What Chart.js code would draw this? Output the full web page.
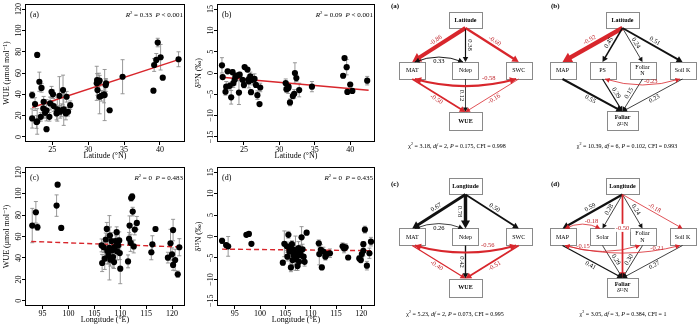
<!DOCTYPE html>
<html>
<head>
<meta charset="utf-8">
<title>WUE and foliar δ15N along latitude and longitude</title>
<script src="https://cdn.jsdelivr.net/npm/chart.js@4.4.0/dist/chart.umd.min.js"></script>
<style>
  body { margin: 0; background: #fff; }
  #fig { position: relative; width: 700px; height: 327px; overflow: hidden; background: #fff; }
  #fig canvas { position: absolute; }
</style>
</head>
<body>
<div id="fig">
  <canvas id="wueLat" width="190" height="163" style="left:0;top:0"></canvas>
  <canvas id="d15Lat" width="190" height="163" style="left:192px;top:0"></canvas>
  <canvas id="wueLon" width="190" height="164" style="left:0;top:163px"></canvas>
  <canvas id="d15Lon" width="190" height="164" style="left:192px;top:163px"></canvas>
  <canvas id="semA" width="155" height="163" style="left:380px;top:0"></canvas>
  <canvas id="semB" width="165" height="163" style="left:535px;top:0"></canvas>
  <canvas id="semC" width="155" height="164" style="left:380px;top:163px"></canvas>
  <canvas id="semD" width="165" height="164" style="left:535px;top:163px"></canvas>
</div>
<script>
// ---- site data: WUE vs latitude (a) ----
const latA = [22.2, 22.2, 22.6, 22.8, 22.9, 22.9, 23.2, 23.5, 23.4, 23.75, 23.8, 24.0, 24.2, 24.2, 24.6, 24.7, 24.9,
  25.1, 25.2, 25.6, 25.7, 26.0, 26.1, 26.3, 26.5, 26.6, 26.9, 27.0, 27.2, 27.5,
  31.2, 31.25, 31.5, 31.6, 31.3, 31.6, 31.85, 32.2, 32.3, 32.45, 32.5, 33.0, 34.8,
  39.1, 39.2, 39.5, 39.7, 40.1, 40.4, 42.6];
const wueA = [17.3, 39.3, 30.8, 14, 14.5, 77, 51.8, 46, 18.8, 26.7, 33, 22.6, 25, 7.2, 18.8, 31.4, 42.4,
  40, 29, 22, 25.8, 38.6, 23.6, 25, 44, 25.8, 22, 37.7, 23.6, 29.8,
  50.3, 53.4, 51.8, 52.8, 44, 37.7, 38.6, 40, 39.3, 48.7, 50.3, 25, 56.5,
  43.4, 67.5, 72.3, 88.6, 74.8, 55.6, 72.9];
const wueAErr = [9, 3, 6, 6, 12, 0, 9, 4, 4, 8, 5, 5, 10, 0, 4, 6, 5,
  4, 5, 6, 11, 18, 6, 6, 14, 15, 6, 5, 4, 4,
  16, 6, 8, 5, 5, 16, 5, 8, 24, 6, 4, 0, 16,
  0, 6, 6, 4, 12, 0, 7];
const fitLatA = [22.2, 42.6];
const fitWueA = [27.6, 72.5];

// ---- foliar δ15N vs latitude (b) ----
const latB = [21.9, 22.0, 22.4, 22.5, 22.7, 23.0, 23.2, 23.4, 23.5, 23.7, 23.8, 24.1, 24.3, 24.4, 24.8,
  25.0, 25.1, 25.5, 25.6, 25.7, 25.9, 26.0, 26.2, 26.5, 26.7, 26.9, 27.2, 27.3,
  30.9, 31.0, 31.25, 31.3, 31.5, 31.9, 32.1, 32.2, 32.4, 32.8, 34.6,
  39.2, 39.5, 39.0, 40.0, 40.3, 39.6, 42.4];
const d15B = [1.8, -0.95, -4.4, -3.2, 0.4, -3.0, -5.7, 0.2, -2.4, -1.6, -0.8, -0.6, -4.6, -0.4, -1.6,
  -2.8, 1.4, 0.8, -1.6, -2.0, -0.8, -4.5, -1.6, -1.4, -2.8, -5.2, -7.3, -3.4,
  -2.4, -3.8, -3.6, -3.2, -6.9, -5.4, -4.9, 0, -1.2, -4.0, -3.2,
  3.5, 1.36, -0.64, -2.7, -4.2, -4.45, -1.8];
const d15BErr = [1.8, 0.5, 0.8, 1.2, 0.5, 0.8, 1.6, 0.6, 1.0, 1.2, 0.8, 0.6, 2.8, 0.6, 0.5,
  0.7, 0.3, 0.5, 0.8, 1.5, 1.0, 0.5, 1.2, 1.2, 0.6, 1.0, 0.3, 1.0,
  1.0, 0.8, 1.2, 0.6, 0.8, 0.7, 1.0, 2.4, 0.8, 1.6, 1.2,
  0.4, 1.8, 0.5, 0.5, 0.3, 0.3, 1.0];
const fitLatB = [21.9, 42.6];
const fitD15B = [-1.0, -4.05];

// ---- WUE vs longitude (c) ----
const lonC = [93.0, 93.7, 94.0, 97.7, 97.9, 98.6,
  106.4, 106.5, 106.8, 107.0, 107.2, 107.4, 107.5, 107.7, 107.9, 108.0, 108.1, 108.3, 108.4, 108.6, 108.8,
  108.9, 109.1, 109.3, 109.4, 109.6, 109.8, 110.0, 109.9,
  111.7, 111.5, 111.8, 112.0, 112.1, 112.3, 112.4, 112.6, 112.8, 113.2,
  116.0, 116.2, 116.8, 119.2, 119.7, 120.0, 120.2, 120.2, 120.6, 121.1, 121.4];
const wueC = [70.2, 82.6, 68.7, 88.8, 108.3, 68,
  51.7, 35.3, 50, 39.3, 57.2, 67.1, 46.4, 42.4, 49.5, 60.9, 38.4, 55.7, 47, 40.8, 36.2,
  50.1, 55.7, 64, 46.1, 51.7, 56.3, 30, 44.5,
  57.8, 36.8, 70.2, 54.1, 95.9, 97.1, 83.2, 50.7, 66.5, 72.7,
  45.3, 52.7, 67, 40.3, 53.7, 43.4, 66, 33.5, 38.1, 24.8, 50];
const wueCErr = [16, 10, 3, 10, 0, 0,
  6, 8, 5, 10, 6, 6, 12, 8, 30, 8, 6, 8, 10, 10, 6,
  8, 5, 5, 8, 6, 8, 14, 6,
  6, 6, 9, 8, 3, 3, 4, 6, 5, 6,
  7, 8, 2, 5, 13, 6, 10, 5, 10, 3, 8];
const fitLonC = [92.8, 121.6];
const fitWueC = [55.4, 50.2];

// ---- foliar δ15N vs longitude (d) ----
const lonD = [92.5, 93.3, 93.7, 97.3, 97.8, 98.3,
  104.5, 104.8, 105.3, 105.4, 105.6, 105.8, 105.9, 106.1, 106.3, 106.4, 106.6, 106.7, 106.9, 107.0,
  107.2, 107.4, 107.6, 107.7, 107.9, 108.0, 108.2, 108.4, 108.6, 108.8, 109.2,
  111.6, 111.7, 112.0, 112.2, 112.5, 112.9, 113.2, 113.8,
  116.3, 116.6, 116.9, 117.4, 119.6, 119.9, 120.1, 120.4, 120.4, 120.7, 121.1, 121.6, 121.9];
const d15D = [-1.0, -2.0, -2.3, 0.4, 0.6, -1.7,
  -6.1, -1.7, -2.3, -4.7, 0.4, -3.5, -2.7, -7.2, -1.8, -5.5, -4.3, -3.1, -5.3, -3.9,
  -4.8, -6.9, -2.7, -5.9, -3.5, -4.3, -0.2, -3.0, -4.7, -5.9, 0.9,
  -1.6, -4.1, -3.1, -7.2, -3.5, -4.7, -4.1, -3.9,
  -2.3, -2.8, -2.5, -4.9, -5.1, -5.5, -4.1, -3.35, -1.8, 1.6, -6.8, -3.9, -1.2];
const d15DErr = [0.6, 0.5, 2.3, 0, 0.2, 0,
  0.5, 3.0, 1.0, 1.0, 0.8, 1.2, 1.0, 1.0, 0.8, 1.2, 1.5, 1.0, 1.2, 4.0,
  1.0, 1.0, 1.5, 1.0, 1.5, 1.0, 2.5, 1.2, 1.5, 1.0, 0.5,
  0.8, 2.5, 1.2, 0.5, 1.0, 0.8, 0.6, 1.0,
  0.8, 1.0, 0.8, 0.4, 0.6, 0.6, 0.8, 1.2, 0.6, 0.8, 1.0, 1.2, 1.0];
const fitLonD = [92.5, 121.9];
const fitD15D = [-2.95, -3.3];

// regression statistics per panel
const r2Values = [0.33, 0.09, 0, 0];
const pTexts = ['< 0.001', '< 0.001', '= 0.483', '= 0.435'];

// axis ticks
const latTicks = [25, 30, 35, 40];
const lonTicks = [95, 100, 105, 110, 115, 120];
const wueTicks = [0, 20, 40, 60, 80, 100, 120];
const d15Ticks = [-15, -10, -5, 0, 5, 10, 15];

// ---- structural equation models ----
const FOL = 'Foliar\nδ¹⁵N';
const midA = ['MAT', 'Ndep', 'SWC'];
const pathsA = [['Latitude', 'MAT', -0.86], ['Latitude', 'Ndep', 0.38], ['Latitude', 'SWC', -0.60],
  ['MAT', 'WUE', -0.50], ['Ndep', 'WUE', 0.12], ['SWC', 'WUE', -0.16]];
const covsA = [['MAT', 'Ndep', 0.33], ['MAT', 'SWC', -0.58]];

const midB = ['MAP', 'PS', 'Foliar\nN', 'Soil K'];
const pathsB = [['Latitude', 'MAP', -0.92], ['Latitude', 'PS', 0.45], ['Latitude', 'Foliar\nN', 0.24],
  ['Latitude', 'Soil K', 0.51], ['MAP', FOL, 0.55], ['PS', FOL, 0.39], ['Foliar\nN', FOL, 0.15], ['Soil K', FOL, 0.23]];
const covsB = [['PS', 'Soil K', -0.23]];

const midC = ['MAT', 'Ndep', 'SWC'];
const pathsC = [['Longitude', 'MAT', 0.67], ['Longitude', 'Ndep', 0.78], ['Longitude', 'SWC', 0.50],
  ['MAT', 'WUE', -0.40], ['Ndep', 'WUE', 0.42], ['SWC', 'WUE', -0.51]];
const covsC = [['MAT', 'Ndep', 0.26], ['MAT', 'SWC', -0.56]];

const midD = ['MAP', 'Solar', 'Foliar\nN', 'Soil K'];
const pathsD = [['Longitude', 'MAP', 0.59], ['Longitude', 'Solar', 0.28], ['Longitude', 'Foliar\nN', 0.24],
  ['Longitude', 'Soil K', -0.18], ['Longitude', FOL, -0.50], ['MAP', FOL, 0.41], ['Solar', FOL, 0.29],
  ['Foliar\nN', FOL, 0.30], ['Soil K', FOL, 0.27]];
const covsD = [['MAP', 'Solar', -0.18], ['MAP', 'Foliar\nN', -0.15], ['MAP', 'Soil K', -0.21]];

// model fit: chi-square, df, P, CFI
const chiSq = ['3.18', '10.39', '5.23', '3.05'];
const dfs = [2, 6, 2, 3];
const pModel = ['0.175', '0.102', '0.073', '0.384'];
const cfis = ['0.998', '0.993', '0.995', '1'];

const SERIF = '"Liberation Serif", "DejaVu Serif", serif';
const RED = '#d8262c';
const RED_TXT = '#c0272d';

// text made of pieces: [text, style] where style has 'i' italic, 's' superscript, 'b' bold
function drawRich(ctx, parts, x, y, align, size) {
  const fontOf = st => (st.includes('i') ? 'italic ' : '') + (st.includes('b') ? 'bold ' : '') +
    (st.includes('s') ? size * 0.68 : size) + 'px ' + SERIF;
  const widths = parts.map(([t, st = '']) => { ctx.font = fontOf(st); return ctx.measureText(t).width; });
  const total = widths.reduce((a, b) => a + b, 0);
  let cx = align === 'right' ? x - total : align === 'center' ? x - total / 2 : x;
  ctx.textAlign = 'left';
  ctx.textBaseline = 'middle';
  parts.forEach(([t, st = ''], i) => {
    ctx.font = fontOf(st);
    ctx.fillText(t, cx, st.includes('s') ? y - size * 0.32 : y);
    cx += widths[i];
  });
}

function panelPlugin(p) {
  return {
    id: 'panelDecor',
    beforeDatasetsDraw(chart) {
      const { ctx, scales: { x, y } } = chart;
      ctx.save();
      ctx.strokeStyle = '#8d8d8d';
      ctx.lineWidth = 0.9;
      p.x.forEach((xv, i) => {
        const e = p.err[i];
        if (!e) return;
        const px = x.getPixelForValue(xv);
        const y1 = y.getPixelForValue(p.y[i] - e);
        const y2 = y.getPixelForValue(p.y[i] + e);
        ctx.beginPath();
        ctx.moveTo(px, y1); ctx.lineTo(px, y2);
        ctx.moveTo(px - 2, y1); ctx.lineTo(px + 2, y1);
        ctx.moveTo(px - 2, y2); ctx.lineTo(px + 2, y2);
        ctx.stroke();
      });
      ctx.restore();
    },
    afterDraw(chart) {
      const { ctx, chartArea: a, scales: { y } } = chart;
      ctx.save();
      ctx.strokeStyle = '#000';
      ctx.lineWidth = 1;
      ctx.strokeRect(Math.round(a.left) + 0.5, Math.round(a.top) + 0.5,
        Math.round(a.right - a.left) - 1, Math.round(a.bottom - a.top) - 1);
      ctx.fillStyle = '#000';
      ctx.font = '8px ' + SERIF;
      ctx.textAlign = 'center';
      ctx.textBaseline = 'middle';
      p.yTicks.forEach(v => {
        ctx.save();
        ctx.translate(a.left - 6.5, y.getPixelForValue(v));
        ctx.rotate(-Math.PI / 2);
        ctx.fillText(v < 0 ? '\u2212' + (-v) : String(v), 0, 0);
        ctx.restore();
      });
      ctx.textAlign = 'left';
      ctx.fillText(p.tag, a.left + 5, a.top + 11);
      drawRich(ctx, [['R', 'i'], ['2', 's'], [' = ' + p.r2 + '  '], ['P', 'i'], [' ' + p.pText]],
        a.right - 2, a.top + 11, 'right', 7);
      ctx.restore();
    }
  };
}

function scatterPanel(id, p) {
  const points = p.x.map((x, i) => ({ x, y: p.y[i] }));
  const fitLine = p.fitX.map((x, i) => ({ x, y: p.fitY[i] }));
  const font = { family: SERIF, size: 8 };
  return new Chart(document.getElementById(id), {
    type: 'scatter',
    data: {
      datasets: [
        { data: points, pointRadius: 3.1, pointBackgroundColor: '#000', pointBorderWidth: 0, order: 0 },
        { data: fitLine, showLine: true, borderColor: RED, borderWidth: 1.4,
          borderDash: p.dashed ? [5, 3] : [], pointRadius: 0, order: 1 }
      ]
    },
    options: {
      responsive: false,
      animation: false,
      devicePixelRatio: 1,
      layout: { padding: p.pad },
      plugins: { legend: { display: false }, tooltip: { enabled: false } },
      scales: {
        x: {
          type: 'linear', min: p.xRange[0], max: p.xRange[1],
          afterBuildTicks: s => { s.ticks = p.xTicks.map(v => ({ value: v })); },
          afterFit: s => { s.height = 21; },
          ticks: { font, color: '#000', padding: 0, autoSkip: false, maxRotation: 0 },
          grid: { drawOnChartArea: false, tickLength: 3, color: '#000' },
          border: { display: false },
          title: { display: true, text: p.xTitle, font, color: '#000', padding: { top: 0, bottom: 2 } }
        },
        y: {
          type: 'linear', min: p.yRange[0], max: p.yRange[1],
          afterBuildTicks: s => { s.ticks = p.yTicks.map(v => ({ value: v })); },
          afterFit: s => { s.width = 25; },
          ticks: { display: false },
          grid: { drawOnChartArea: false, tickLength: 3, color: '#000' },
          border: { display: false },
          title: { display: true, text: p.yTitle, font, color: '#000', padding: { top: 2, bottom: 0 } }
        }
      }
    },
    plugins: [panelPlugin(p)]
  });
}

// arrow line width from the standardised coefficient
const pathWidth = c => Math.max(0.8, 5 * Math.pow(Math.abs(c), 1.5));

function arrowHead(ctx, x, y, ang, w, color) {
  const L = 3.5 + 1.3 * w, H = 1.8 + 0.8 * w;
  const c = Math.cos(ang), s = Math.sin(ang);
  ctx.fillStyle = color;
  ctx.beginPath();
  ctx.moveTo(x, y);
  ctx.lineTo(x - L * c + H * s, y - L * s - H * c);
  ctx.lineTo(x - L * c - H * s, y - L * s + H * c);
  ctx.closePath();
  ctx.fill();
  return L;
}

function coefText(c) { return c.toFixed(2); }

function semPlugin(s) {
  return {
    id: 'semDraw',
    afterDatasetsDraw(chart) {
      const { ctx, scales: { x, y } } = chart;
      const geo = {};
      Object.entries(s.nodes).forEach(([name, n]) => {
        geo[name] = { ...n, cx: x.getPixelForValue(n.col), cy: y.getPixelForValue(n.row) };
      });
      const centerX = x.getPixelForValue((s.mid.length - 1) / 2);
      ctx.save();

      // node boxes
      Object.entries(geo).forEach(([name, g]) => {
        const l = Math.round(g.cx - g.w / 2) + 0.5, t = Math.round(g.cy - g.h / 2) + 0.5;
        ctx.fillStyle = '#fff';
        ctx.fillRect(l, t, g.w, g.h);
        ctx.strokeStyle = '#8a8a8a';
        ctx.lineWidth = 1;
        ctx.strokeRect(l, t, g.w, g.h);
        const lines = name.split('\n');
        ctx.fillStyle = '#000';
        ctx.textAlign = 'center';
        ctx.textBaseline = 'middle';
        lines.forEach((ln, i) => {
          ctx.font = (g.bold && i === 0 ? 'bold ' : '') + '6px ' + SERIF;
          ctx.fillText(ln, g.cx, g.cy + (i - (lines.length - 1) / 2) * 6.6);
        });
      });

      // directed paths
      s.paths.forEach(([from, to, c]) => {
        const a = geo[from], b = geo[to];
        const x1 = a.cx, y1 = a.cy + a.h / 2, x2 = b.cx, y2 = b.cy - b.h / 2;
        const w = pathWidth(c), col = c < 0 ? RED : '#111';
        const ang = Math.atan2(y2 - y1, x2 - x1);
        const L = 3.5 + 1.3 * w;
        ctx.strokeStyle = col;
        ctx.lineWidth = w;
        ctx.beginPath();
        ctx.moveTo(x1, y1);
        ctx.lineTo(x2 - (L - 1) * Math.cos(ang), y2 - (L - 1) * Math.sin(ang));
        ctx.stroke();
        arrowHead(ctx, x2, y2, ang, w, col);

        ctx.fillStyle = c < 0 ? RED_TXT : '#000';
        ctx.font = '6.5px ' + SERIF;
        ctx.textAlign = 'center';
        ctx.textBaseline = 'middle';
        if (b.row - a.row === 2) {
          const ly = y1 + (y2 - y1) * 0.4;
          const tw = ctx.measureText(coefText(c)).width;
          ctx.fillStyle = '#fff';
          ctx.fillRect(x1 - tw / 2 - 1, ly - 4, tw + 2, 8);
          ctx.fillStyle = c < 0 ? RED_TXT : '#000';
          ctx.fillText(coefText(c), x1, ly);
          return;
        }
        const mx = (x1 + x2) / 2, my = (y1 + y2) / 2;
        const len = Math.hypot(x2 - x1, y2 - y1);
        let nx = -(y2 - y1) / len, ny = (x2 - x1) / len;
        const key = from + '>' + to;
        const side = s.sides[key] !== undefined ? s.sides[key]
          : (Math.abs(mx - centerX) < 1.5 ? -1 : Math.sign(mx - centerX));
        if (nx * side < 0) { nx = -nx; ny = -ny; }
        const off = 3.6 + w / 2;
        let rot = ang;
        if (rot > Math.PI / 2) rot -= Math.PI;
        if (rot < -Math.PI / 2) rot += Math.PI;
        ctx.save();
        ctx.translate(mx + nx * off, my + ny * off);
        ctx.rotate(rot);
        ctx.fillText(coefText(c), 0, 0);
        ctx.restore();
      });

      // correlated residuals as curved double arrows
      s.covs.forEach(([p, q, c], i) => {
        const a = geo[p], b = geo[q];
        const above = Math.abs(b.col - a.col) === 1;
        const dir = Math.sign(b.cx - a.cx);
        const yA = above ? a.cy - a.h / 2 : a.cy + a.h / 2;
        const yB = above ? b.cy - b.h / 2 : b.cy + b.h / 2;
        const x1 = a.cx + 2.5 * dir, x2 = b.cx - 2.5 * dir;
        const dist = Math.abs(x2 - x1);
        const cxp = (x1 + x2) / 2, cyp = (yA + yB) / 2 + (above ? -1 : 1) * (6 + 0.08 * dist);
        const w = pathWidth(c), col = c < 0 ? RED : '#111';
        ctx.strokeStyle = col;
        ctx.lineWidth = w;
        ctx.beginPath();
        ctx.moveTo(x1, yA);
        ctx.quadraticCurveTo(cxp, cyp, x2, yB);
        ctx.stroke();
        arrowHead(ctx, x1, yA, Math.atan2(yA - cyp, x1 - cxp), w, col);
        arrowHead(ctx, x2, yB, Math.atan2(yB - cyp, x2 - cxp), w, col);
        const [t, dy] = s.covLabels[i];
        const bx = (1 - t) * (1 - t) * x1 + 2 * (1 - t) * t * cxp + t * t * x2;
        const by = (1 - t) * (1 - t) * yA + 2 * (1 - t) * t * cyp + t * t * yB;
        ctx.fillStyle = c < 0 ? RED_TXT : '#000';
        ctx.font = '6.5px ' + SERIF;
        ctx.textAlign = 'center';
        ctx.textBaseline = 'middle';
        ctx.fillText(coefText(c), bx, by + dy);
      });

      // panel tag and model fit
      ctx.fillStyle = '#000';
      ctx.font = 'bold 7px ' + SERIF;
      ctx.textAlign = 'left';
      ctx.textBaseline = 'middle';
      ctx.fillText(s.tag, s.tagPos[0], s.tagPos[1]);
      drawRich(ctx, [['χ'], ['2', 's'], [' = ' + s.chi + ', '], ['df', 'i'], [' = ' + s.df + ', '],
        ['P', 'i'], [' = ' + s.p + ', CFI = ' + s.cfi]], s.capPos[0], s.capPos[1], 'center', 6);
      ctx.restore();
    }
  };
}

function semDiagram(id, s) {
  const mid = (s.mid.length - 1) / 2;
  const two = s.bottom.includes('\n');
  s.nodes = {};
  s.nodes[s.top] = { col: mid, row: 0, w: 33, h: 16, bold: true };
  s.mid.forEach((n, i) => { s.nodes[n] = { col: i, row: 1, w: 26, h: 17, bold: false }; });
  s.nodes[s.bottom] = { col: mid, row: 2, w: two ? 31 : 33, h: two ? 19 : 18, bold: true };
  const pts = Object.values(s.nodes).map(n => ({ x: n.col, y: n.row }));
  return new Chart(document.getElementById(id), {
    type: 'scatter',
    data: { datasets: [{ data: pts, pointRadius: 0 }] },
    options: {
      responsive: false,
      animation: false,
      devicePixelRatio: 1,
      layout: { padding: 0 },
      plugins: { legend: { display: false }, tooltip: { enabled: false } },
      scales: {
        x: { type: 'linear', display: false, min: s.xRange[0], max: s.xRange[1] },
        y: { type: 'linear', display: false, reverse: true, min: s.yRange[0], max: s.yRange[1] }
      }
    },
    plugins: [semPlugin(s)]
  });
}

const wueTitle = 'WUE (μmol mol⁻¹)';
const d15Title = 'δ¹⁵N (‰)';

scatterPanel('wueLat', { x: latA, y: wueA, err: wueAErr, fitX: fitLatA, fitY: fitWueA, dashed: false,
  xRange: [21.2, 43.5], yRange: [-4.8, 124.8], xTicks: latTicks, yTicks: wueTicks,
  xTitle: 'Latitude (°N)', yTitle: wueTitle, tag: '(a)', r2: r2Values[0], pText: pTexts[0],
  pad: { left: 0, right: 5, top: 4, bottom: 0 } });
scatterPanel('d15Lat', { x: latB, y: d15B, err: d15BErr, fitX: fitLatB, fitY: fitD15B, dashed: false,
  xRange: [21.2, 43.5], yRange: [-16.2, 16.2], xTicks: latTicks, yTicks: d15Ticks,
  xTitle: 'Latitude (°N)', yTitle: d15Title, tag: '(b)', r2: r2Values[1], pText: pTexts[1],
  pad: { left: 0, right: 7, top: 4, bottom: 0 } });
scatterPanel('wueLon', { x: lonC, y: wueC, err: wueCErr, fitX: fitLonC, fitY: fitWueC, dashed: true,
  xRange: [91.6, 122.5], yRange: [-4.8, 124.8], xTicks: lonTicks, yTicks: wueTicks,
  xTitle: 'Longitude (°E)', yTitle: wueTitle, tag: '(c)', r2: r2Values[2], pText: pTexts[2],
  pad: { left: 0, right: 5, top: 3.5, bottom: 0 } });
scatterPanel('d15Lon', { x: lonD, y: d15D, err: d15DErr, fitX: fitLonD, fitY: fitD15D, dashed: true,
  xRange: [91.5, 122.7], yRange: [-16.2, 16.2], xTicks: lonTicks, yTicks: d15Ticks,
  xTitle: 'Longitude (°E)', yTitle: d15Title, tag: '(d)', r2: r2Values[3], pText: pTexts[3],
  pad: { left: 0, right: 7, top: 3.5, bottom: 0 } });

semDiagram('semA', { top: 'Latitude', mid: midA, bottom: 'WUE', paths: pathsA, covs: covsA,
  sides: { 'Latitude>Ndep': 1 }, covLabels: [[0.5, 4.5], [0.73, -6]],
  chi: chiSq[0], df: dfs[0], p: pModel[0], cfi: cfis[0], tag: '(a)', tagPos: [11, 6], capPos: [77, 146],
  xRange: [-0.6056, 2.3052], yRange: [-0.396, 2.832] });
semDiagram('semB', { top: 'Latitude', mid: midB, bottom: FOL, paths: pathsB, covs: covsB,
  sides: { ['PS>' + FOL]: 1, ['Foliar\nN>' + FOL]: -1 }, covLabels: [[0.61, -3]],
  chi: chiSq[1], df: dfs[1], p: pModel[1], cfi: cfis[1], tag: '(b)', tagPos: [16, 6], capPos: [92, 146],
  xRange: [-0.6875, 3.4375], yRange: [-0.396, 2.832] });
semDiagram('semC', { top: 'Longitude', mid: midC, bottom: 'WUE', paths: pathsC, covs: covsC,
  sides: {}, covLabels: [[0.5, 4.5], [0.72, -6]],
  chi: chiSq[2], df: dfs[2], p: pModel[2], cfi: cfis[2], tag: '(c)', tagPos: [11, 21], capPos: [75, 151],
  xRange: [-0.6056, 2.3052], yRange: [-0.465, 2.782] });
semDiagram('semD', { top: 'Longitude', mid: midD, bottom: FOL, paths: pathsD, covs: covsD,
  sides: { ['Solar>' + FOL]: 1, ['Foliar\nN>' + FOL]: -1 }, covLabels: [[0.76, -4], [0.24, -4], [0.8, -2]],
  chi: chiSq[3], df: dfs[3], p: pModel[3], cfi: cfis[3], tag: '(d)', tagPos: [16, 21], capPos: [88, 151],
  xRange: [-0.6875, 3.4375], yRange: [-0.465, 2.782] });
</script>
</body>
</html>
